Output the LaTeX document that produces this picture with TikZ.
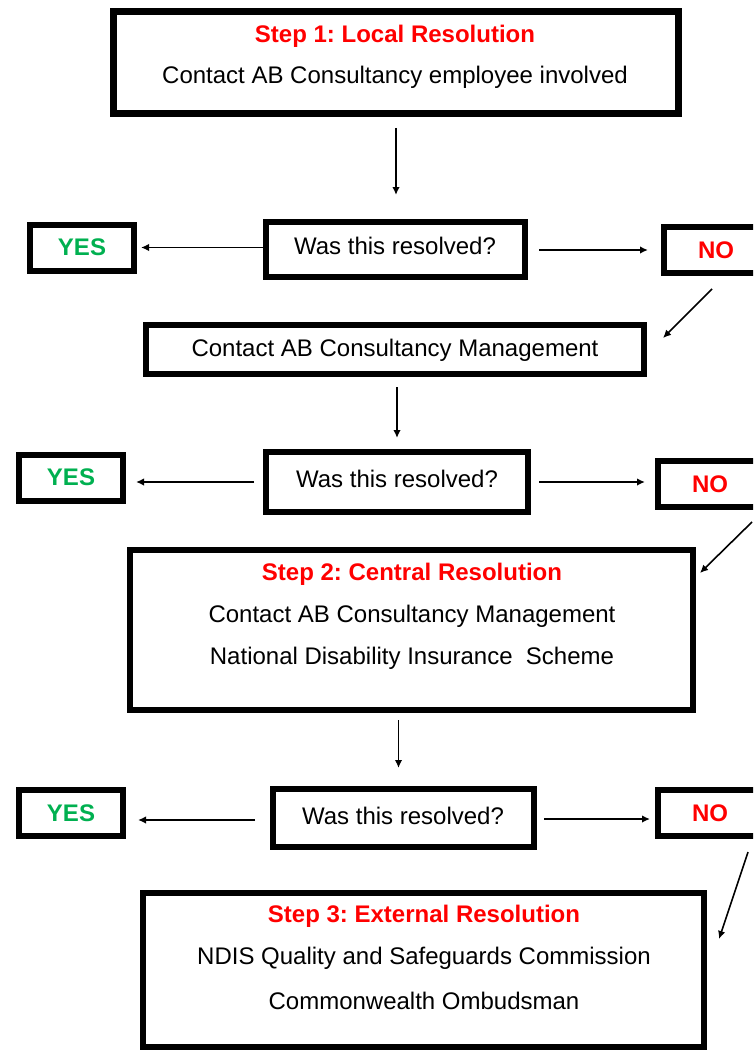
\documentclass[tikz,border=0pt]{standalone}
\usepackage{fontspec}
\setmainfont{Liberation Sans}
\usetikzlibrary{arrows.meta,calc}
\definecolor{stepred}{RGB}{255,0,0}
\definecolor{yesgreen}{RGB}{0,176,80}
\frenchspacing

\begin{document}
\begin{tikzpicture}[x=1pt,y=-1pt,
  box/.style={draw,line width=6pt,inner sep=0pt},
  txt/.style={inner sep=0pt,font=\fontsize{24}{28}\selectfont},
  head/.style={inner sep=0pt,font=\fontsize{24}{28}\selectfont\bfseries,text=stepred},
  yesbox/.style={box,minimum width=104pt,minimum height=46pt,
    font=\fontsize{24}{28}\selectfont\bfseries,text=yesgreen},
  nobox/.style={box,minimum width=104pt,minimum height=46pt,
    font=\fontsize{24}{28}\selectfont\bfseries,text=stepred},
  arr/.style={-{Latex[length=8pt,width=7.5pt]},line width=1.6pt}]
  \useasboundingbox (0,0) rectangle (753,1051);
  \clip (0,0) rectangle (753,1051);
  % Step 1
  \node[box,line width=7pt,minimum width=565pt,minimum height=102pt] (step1) at (396,62.5) {};
  \node[head] (step1head) at (395,36.5) {Step 1: Local Resolution};
  \node[txt] (step1line) at (395,77.5) {Contact AB Consultancy employee involved};
  % First check
  \node[box,minimum width=259pt,minimum height=55pt] (q1) at (395.5,249.5) {};
  \node[txt] (q1text) at (395,245.5) {Was this resolved?};
  \node[yesbox] (yes1) at (82,247.5) {YES};
  \node[nobox] (no1) at (716,250) {NO};
  \node[box,minimum width=498pt,minimum height=49pt] (mgmt) at (395,349.5) {};
  \node[txt] (mgmttext) at (395,350.5) {Contact AB Consultancy Management};
  % Second check
  \node[box,minimum width=262pt,minimum height=60pt] (q2) at (397,482) {};
  \node[txt] (q2text) at (397,478.5) {Was this resolved?};
  \node[yesbox] (yes2) at (71,477.5) {YES};
  \node[nobox] (no2) at (710,484) {NO};
  % Step 2
  \node[box,minimum width=563pt,minimum height=160pt] (step2) at (411.5,630) {};
  \node[head] (step2head) at (412,574.5) {Step 2: Central Resolution};
  \node[txt] (step2a) at (412,616.5) {Contact AB Consultancy Management};
  \node[txt] (step2b) at (412,658.5) {National Disability Insurance\ \ Scheme};
  % Third check
  \node[box,minimum width=261pt,minimum height=58pt] (q3) at (403.5,818) {};
  \node[txt] (q3text) at (403,815.5) {Was this resolved?};
  \node[yesbox] (yes3) at (71,813) {YES};
  \node[nobox] (no3) at (710,813) {NO};
  % Step 3
  \node[box,minimum width=561pt,minimum height=154pt] (step3) at (423.5,970) {};
  \node[head] (step3head) at (424,916.5) {Step 3: External Resolution};
  \node[txt] (step3a) at (424,958.5) {NDIS Quality and Safeguards Commission};
  \node[txt] (step3b) at (424,1000.5) {Commonwealth Ombudsman};
  % Connectors
  \draw[arr,shorten <=11pt,shorten >=24pt] (step1.south) -- (step1.south |- q1.north);
  \draw[arr,shorten >=4pt] (q1.west |- yes1.east) -- (yes1.east);
  \draw[arr,shorten <=11pt,shorten >=13pt] (q1.east |- no1.west) -- (no1.west);
  \draw[arr] ($(no1.south)+(-4,13)$) -- ($(mgmt.east)+(16,-11.5)$);
  \draw[arr,shorten <=10pt,shorten >=11pt] ($(mgmt.south -| q2.north)$) -- (q2.north);
  \draw[arr,shorten <=9pt,shorten >=10pt] (q2.west) -- (q2.west -| yes2.east);
  \draw[arr,shorten <=8pt,shorten >=10pt] (q2.east) -- (q2.east -| no2.west);
  \draw[arr] ($(no2.south)+(42,12)$) -- ($(step2.north east)+(4,26)$);
  \draw[arr,shorten <=7pt,shorten >=18pt] ($(step2.south -| q3.north)+(-5,0)$) -- ($(q3.north)+(-5,0)$);
  \draw[arr,shorten <=15pt,shorten >=12pt] ($(q3.west)+(0,2)$) -- ($(q3.west -| yes3.east)+(0,2)$);
  \draw[arr,shorten <=7pt,shorten >=5pt] ($(q3.east)+(0,1)$) -- ($(q3.east -| no3.west)+(0,1)$);
  \draw[arr] ($(no3.south)+(38,13)$) -- ($(step3.north east)+(12,49)$);
\end{tikzpicture}
\end{document}
